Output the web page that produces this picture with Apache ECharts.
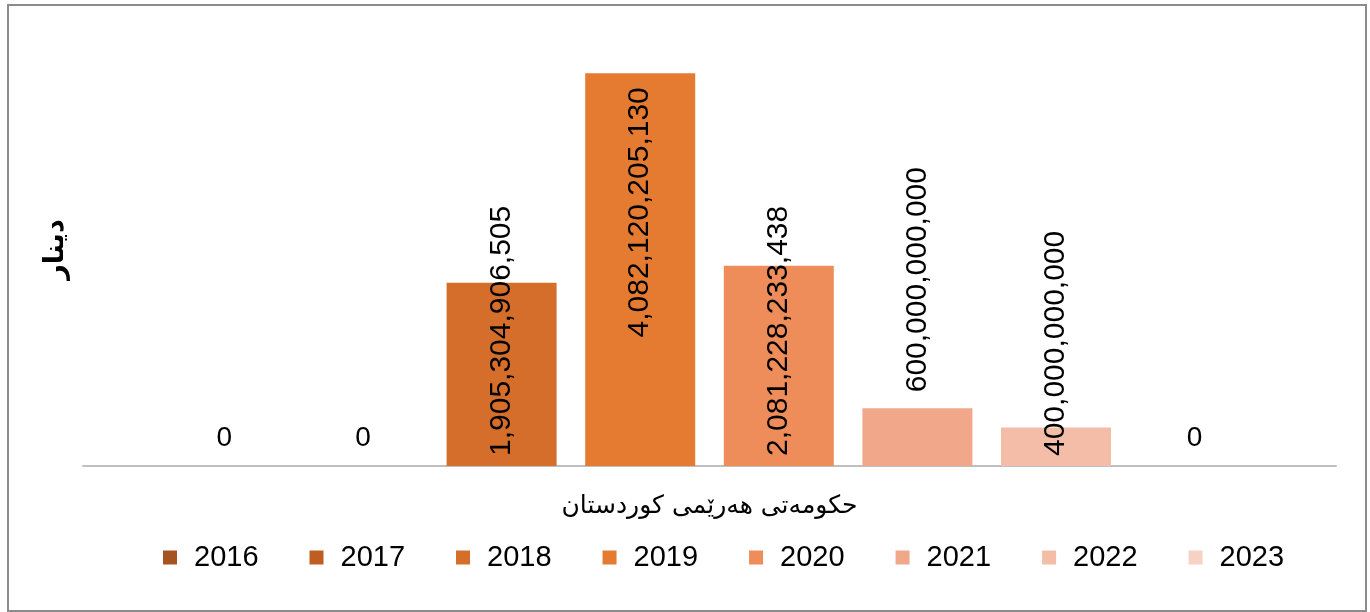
<!DOCTYPE html>
<html>
<head>
<meta charset="utf-8">
<script src="https://cdn.jsdelivr.net/npm/echarts@6/dist/echarts.min.js"></script>
<style>
  html, body { margin: 0; padding: 0; background: #fff; }
  #chart { width: 1370px; height: 612px; }
</style>
</head>
<body>
<div id="chart"></div>
<script>
// Budget by year, in dinars
const categories = ['حکومەتی هەرێمی کوردستان'];
const years = ['2016', '2017', '2018', '2019', '2020', '2021', '2022', '2023'];
const values = [0, 0, 1905304906505, 4082120205130, 2081228233438, 600000000000, 400000000000, 0];
const yAxisTitle = 'دینار';

const colors = ['#A5531F', '#BE5E22', '#D46E2A', '#E57B31', '#EE8D59', '#F0A78A', '#F3BDA8', '#F7D1C4'];

// label placement for each bar, depending on how it sits best
function labelFor(i, v) {
  const base = {
    show: true,
    color: '#000',
    fontFamily: 'Liberation Sans, Arial, sans-serif',
    fontSize: 30,
    formatter: p => Number(p.value).toLocaleString('en-US')
  };
  if (v === 0) {
    return Object.assign(base, { position: 'top', distance: 14, fontSize: 28 });
  }
  const vertical = { rotate: 90, verticalAlign: 'middle' };
  if (i === 3) return Object.assign(base, vertical, { position: 'insideTop', align: 'right', distance: 14 });
  if (i === 5) return Object.assign(base, vertical, { position: 'top', align: 'left', distance: 16 });
  return Object.assign(base, vertical, { position: 'insideBottom', align: 'left', distance: 10 });
}

const series = years.map((y, i) => ({
  name: y,
  type: 'bar',
  data: [values[i]],
  barWidth: 110,
  barGap: '26%',
  itemStyle: { color: colors[i] },
  label: labelFor(i, values[i]),
  emphasis: { disabled: true }
}));

const chart = echarts.init(document.getElementById('chart'), null, { renderer: 'canvas' });
chart.setOption({
  animation: false,
  backgroundColor: '#fff',
  grid: { left: 83, right: 34, top: 33, bottom: 146, containLabel: false },
  xAxis: {
    type: 'category',
    data: categories,
    axisLine: { show: true, lineStyle: { color: '#BFBFBF', width: 2 } },
    axisTick: { show: false },
    axisLabel: {
      color: '#000',
      fontFamily: 'DejaVu Sans, sans-serif',
      fontSize: 25,
      margin: 28
    }
  },
  yAxis: {
    type: 'value',
    min: 0,
    max: 4500000000000,
    name: yAxisTitle,
    nameLocation: 'middle',
    nameRotate: 90,
    nameGap: 14,
    nameTextStyle: {
      color: '#000',
      fontFamily: 'DejaVu Sans, sans-serif',
      fontSize: 27,
      fontWeight: 'bold'
    },
    axisLine: { show: false },
    axisTick: { show: false },
    axisLabel: { show: false },
    splitLine: { show: false }
  },
  legend: {
    data: years,
    left: 158,
    top: 538,
    icon: 'rect',
    itemWidth: 14,
    itemHeight: 14,
    itemGap: 51,
    textStyle: {
      color: '#000',
      fontFamily: 'Liberation Sans, Arial, sans-serif',
      fontSize: 29,
      padding: [0, 0, 0, 12]
    }
  },
  graphic: [{
    type: 'rect',
    shape: { x: 8, y: 5, width: 1358, height: 606 },
    style: { fill: 'none', stroke: '#8C8C8C', lineWidth: 2 },
    silent: true
  }],
  series: series
});
</script>
</body>
</html>
